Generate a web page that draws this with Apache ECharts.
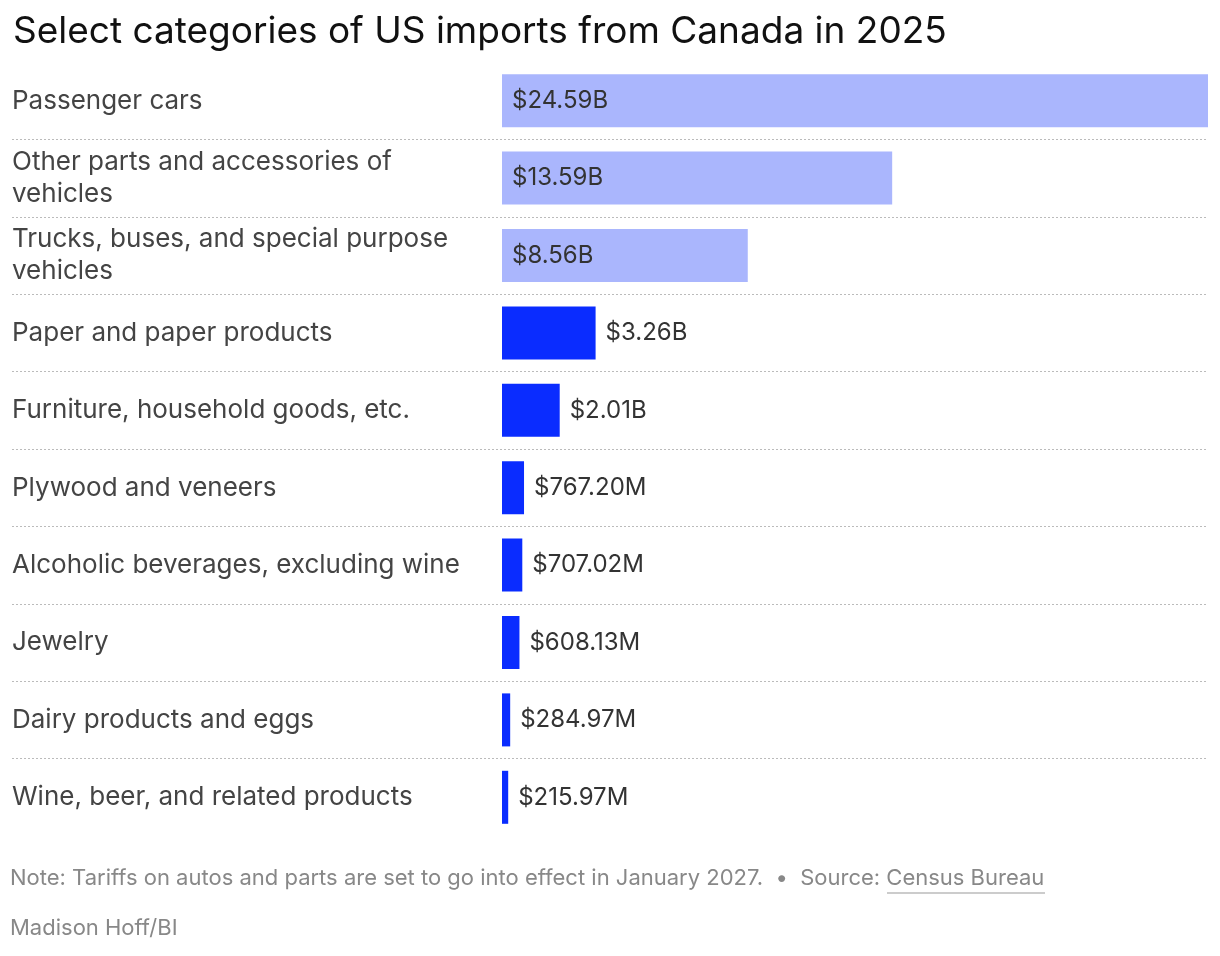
<!DOCTYPE html>
<html>
<head>
<meta charset="utf-8">
<script src="https://cdn.jsdelivr.net/npm/echarts@6/dist/echarts.min.js"></script>
<style>
  html, body { margin: 0; padding: 0; background: #fff; }
  #chart { width: 1220px; height: 956px; }
</style>
</head>
<body>
<div id="chart"></div>
<script>
// values in billions of dollars
var categories = [
  'Passenger cars',
  'Other parts and accessories of\nvehicles',
  'Trucks, buses, and special purpose\nvehicles',
  'Paper and paper products',
  'Furniture, household goods, etc.',
  'Plywood and veneers',
  'Alcoholic beverages, excluding wine',
  'Jewelry',
  'Dairy products and eggs',
  'Wine, beer, and related products'
]
var values = [24.59, 13.59, 8.56, 3.26, 2.01, 0.7672, 0.70702, 0.60813, 0.28497, 0.21597]
var autoCount = 3

var font = 'Inter, "Noto Sans", sans-serif'
var gridLeft = 12, gridRight = 12, barStart = 502
var plotW = 1220 - gridLeft - gridRight
var xMax = values[0]
var xMin = -xMax * (barStart - gridLeft) / (plotW - (barStart - gridLeft))

function fmt(v) {
  return v >= 1 ? '$' + v.toFixed(2) + 'B' : '$' + (v * 1000).toFixed(2) + 'M'
}

var chart = echarts.init(document.getElementById('chart'))
var option = {
  animation: false,
  title: {
    text: 'Select categories of US imports from Canada in 2025',
    left: 8, top: 8,
    textStyle: { fontFamily: font, fontSize: 37, fontWeight: 'normal', color: '#111' }
  },
  grid: { left: gridLeft, right: gridRight, top: 62, bottom: 120, containLabel: false },
  xAxis: {
    type: 'value', min: xMin, max: xMax, show: false
  },
  yAxis: {
    type: 'category', data: categories, inverse: true,
    axisLine: { show: false }, axisTick: { show: false },
    axisLabel: {
      inside: true, margin: 0, color: '#444', fontFamily: font, fontSize: 26, lineHeight: 32
    },
    splitLine: {
      show: true,
      interval: function (i) { return i > 0 },
      lineStyle: { color: '#bbb', type: [2, 2], width: 1 }
    }
  },
  series: [{
    type: 'bar',
    barWidth: 53,
    data: values.map(function (v, i) {
      return {
        value: v,
        itemStyle: { color: i < autoCount ? '#aab6fd' : '#0a2cff' },
        label: { position: i < autoCount ? 'insideLeft' : 'right' }
      }
    }),
    label: {
      show: true, distance: 10, color: '#333', fontFamily: font, fontSize: 24,
      formatter: function (p) { return fmt(p.value) }
    }
  }],
  graphic: [
    // hide the bottom boundary line
    { type: 'rect', left: 0, top: 832, shape: { width: 1220, height: 10 }, style: { fill: '#fff' }, z: 100 },
    { type: 'text', left: 10, top: 867, style: {
      text: 'Note: Tariffs on autos and parts are set to go into effect in January 2027.  \u2022  Source: Census Bureau',
      fill: '#888', font: '22px ' + font } },
    { type: 'text', left: 10, top: 917, style: {
      text: 'Madison Hoff/BI', fill: '#888', font: '22px ' + font } },
    { type: 'line', shape: { x1: 887, y1: 893, x2: 1045, y2: 893 }, style: { stroke: '#999', lineWidth: 1 } }
  ]
}
chart.setOption(option)
window.onresize = function () { chart.resize() }
</script>
</body>
</html>
